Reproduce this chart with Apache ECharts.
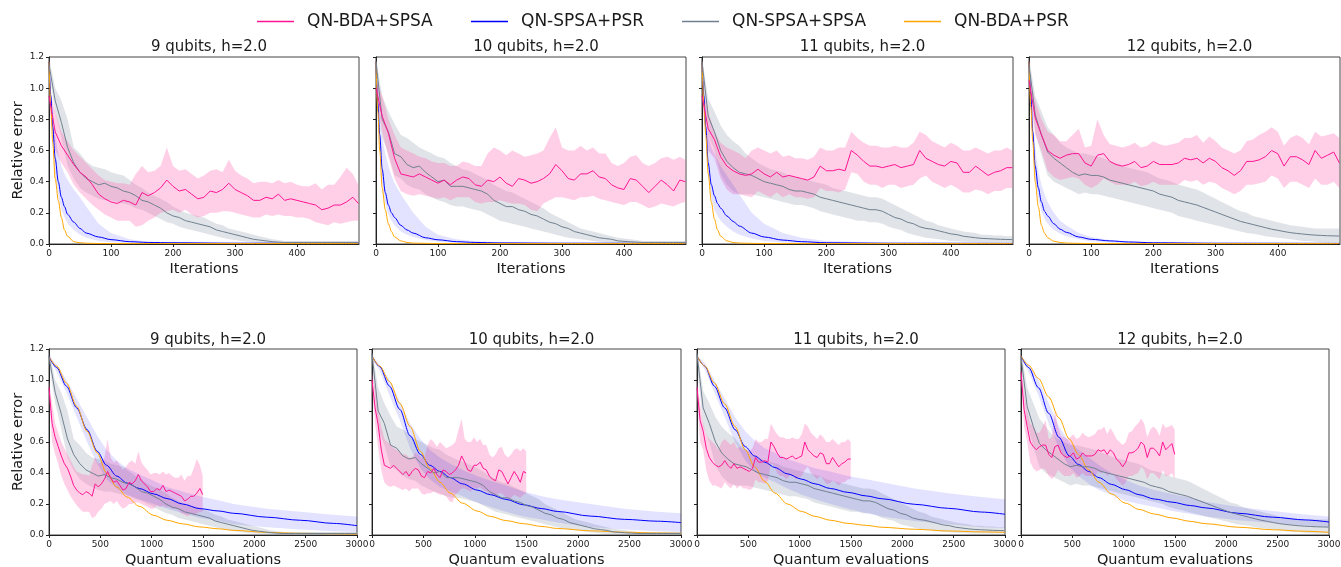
<!DOCTYPE html>
<html>
<head>
<meta charset="utf-8">
<title>Relative error, QN variants</title>
<script src="https://cdn.jsdelivr.net/npm/echarts@6.0.0/dist/echarts.min.js"></script>
<style>
  html, body { margin: 0; padding: 0; background: #fff; }
  #chart { width: 1341px; height: 567px; }
</style>
</head>
<body>
<div id="chart"></div>
<script>
var NAMES = ['QN-BDA+SPSA', 'QN-SPSA+PSR', 'QN-SPSA+SPSA', 'QN-BDA+PSR'];
var QUBITS = [9, 10, 11, 12];

// evaluations spent per iteration by the two SPSA-gradient methods (bottom row x axis)
var BDA_SPSA_EVALS = 3;
var SPSA_SPSA_EVALS = 6;

// iterations at which the noisy curves were read
var ITER = [0,10,20,30,40,50,60,70,80,90,100,110,120,130,140,150,160,170,180,190,200,210,220,230,240,250,260,270,280,290,300,310,320,330,340,350,360,370,380,390,400,410,420,430,440,450,460,470,480,490,499];

// QN-BDA+SPSA (pink) mean / lower / upper
var PINK9 = [0.95,0.72,0.63,0.57,0.51,0.46,0.43,0.38,0.32,0.29,0.27,0.26,0.28,0.27,0.25,0.33,0.31,0.33,0.36,0.41,0.37,0.34,0.35,0.32,0.29,0.30,0.34,0.33,0.35,0.39,0.35,0.33,0.31,0.28,0.28,0.30,0.29,0.32,0.28,0.29,0.28,0.27,0.26,0.25,0.22,0.23,0.25,0.25,0.27,0.30,0.26];
var PINK9_LO = [0.9,0.6,0.52,0.46,0.38,0.33,0.29,0.25,0.22,0.19,0.17,0.15,0.15,0.15,0.11,0.12,0.15,0.17,0.2,0.21,0.22,0.2,0.22,0.19,0.17,0.18,0.2,0.2,0.21,0.21,0.2,0.19,0.18,0.17,0.17,0.19,0.18,0.19,0.18,0.18,0.17,0.17,0.16,0.14,0.13,0.12,0.14,0.13,0.14,0.15,0.15];
var PINK9_HI = [1.0,0.85,0.72,0.66,0.6,0.56,0.52,0.48,0.44,0.41,0.4,0.39,0.39,0.38,0.45,0.5,0.46,0.47,0.5,0.62,0.5,0.47,0.48,0.45,0.42,0.44,0.47,0.48,0.46,0.54,0.47,0.44,0.42,0.39,0.4,0.4,0.39,0.41,0.39,0.4,0.38,0.37,0.37,0.39,0.35,0.38,0.38,0.43,0.49,0.45,0.38];
var PINK10 = [1.0,0.82,0.71,0.55,0.45,0.44,0.43,0.45,0.43,0.41,0.39,0.41,0.38,0.41,0.43,0.42,0.38,0.37,0.41,0.40,0.43,0.39,0.37,0.42,0.41,0.39,0.40,0.42,0.45,0.51,0.47,0.42,0.41,0.45,0.45,0.47,0.43,0.42,0.38,0.36,0.35,0.42,0.41,0.37,0.33,0.37,0.41,0.38,0.34,0.41,0.40];
var PINK10_LO = [0.95,0.72,0.56,0.42,0.34,0.32,0.31,0.32,0.31,0.3,0.29,0.3,0.28,0.3,0.3,0.3,0.27,0.26,0.27,0.27,0.28,0.27,0.26,0.26,0.25,0.22,0.21,0.26,0.28,0.3,0.3,0.29,0.28,0.3,0.3,0.31,0.29,0.28,0.27,0.26,0.25,0.27,0.27,0.25,0.23,0.24,0.26,0.25,0.24,0.26,0.27];
var PINK10_HI = [1.05,0.95,0.8,0.7,0.62,0.6,0.58,0.56,0.55,0.53,0.52,0.52,0.5,0.5,0.53,0.52,0.5,0.5,0.58,0.62,0.6,0.57,0.6,0.58,0.56,0.57,0.58,0.6,0.68,0.75,0.62,0.6,0.6,0.63,0.6,0.62,0.58,0.58,0.52,0.5,0.52,0.56,0.57,0.52,0.5,0.52,0.55,0.56,0.54,0.56,0.54];
var PINK11 = [0.95,0.74,0.67,0.56,0.5,0.47,0.45,0.44,0.45,0.48,0.45,0.43,0.46,0.43,0.44,0.43,0.42,0.41,0.43,0.5,0.47,0.47,0.48,0.47,0.6,0.57,0.53,0.5,0.5,0.49,0.5,0.51,0.49,0.5,0.51,0.6,0.55,0.53,0.51,0.5,0.53,0.52,0.46,0.46,0.5,0.47,0.44,0.46,0.47,0.49,0.49];
var PINK11_LO = [0.9,0.6,0.55,0.42,0.35,0.32,0.32,0.31,0.3,0.34,0.32,0.3,0.33,0.3,0.32,0.3,0.3,0.29,0.3,0.36,0.34,0.34,0.33,0.35,0.46,0.45,0.4,0.38,0.38,0.36,0.38,0.38,0.36,0.37,0.38,0.42,0.44,0.4,0.38,0.36,0.38,0.36,0.33,0.33,0.35,0.34,0.32,0.34,0.34,0.36,0.36];
var PINK11_HI = [1.0,0.85,0.72,0.65,0.62,0.6,0.58,0.55,0.6,0.62,0.6,0.58,0.6,0.56,0.57,0.55,0.55,0.54,0.56,0.62,0.6,0.6,0.62,0.62,0.72,0.68,0.65,0.63,0.63,0.62,0.62,0.63,0.62,0.62,0.65,0.72,0.7,0.66,0.64,0.62,0.65,0.63,0.6,0.6,0.62,0.6,0.58,0.6,0.6,0.62,0.6];
var PINK12 = [1.05,0.81,0.70,0.6,0.57,0.55,0.57,0.58,0.58,0.52,0.5,0.57,0.58,0.53,0.51,0.5,0.51,0.53,0.49,0.5,0.53,0.51,0.51,0.51,0.52,0.55,0.54,0.55,0.52,0.55,0.53,0.49,0.47,0.44,0.47,0.53,0.53,0.54,0.56,0.6,0.58,0.5,0.56,0.56,0.54,0.51,0.6,0.55,0.57,0.59,0.52];
var PINK12_LO = [1.0,0.7,0.6,0.47,0.43,0.41,0.42,0.43,0.42,0.38,0.36,0.38,0.42,0.4,0.38,0.38,0.38,0.4,0.37,0.38,0.4,0.38,0.38,0.38,0.38,0.41,0.4,0.41,0.38,0.4,0.39,0.36,0.34,0.32,0.34,0.38,0.38,0.39,0.4,0.44,0.42,0.36,0.4,0.4,0.38,0.36,0.42,0.38,0.38,0.4,0.36];
var PINK12_HI = [1.1,0.92,0.8,0.72,0.7,0.66,0.66,0.7,0.74,0.62,0.63,0.8,0.7,0.64,0.63,0.62,0.63,0.65,0.62,0.63,0.66,0.64,0.63,0.64,0.65,0.68,0.68,0.7,0.65,0.69,0.66,0.62,0.6,0.58,0.6,0.66,0.67,0.7,0.72,0.75,0.72,0.63,0.68,0.7,0.68,0.64,0.72,0.69,0.7,0.71,0.68];

// QN-SPSA+SPSA (gray) mean / lower / upper
var GRAY9 = [1.15,0.92,0.78,0.62,0.52,0.46,0.42,0.40,0.38,0.39,0.37,0.36,0.34,0.33,0.31,0.28,0.27,0.25,0.23,0.20,0.18,0.17,0.15,0.14,0.13,0.12,0.11,0.09,0.08,0.07,0.06,0.05,0.04,0.03,0.025,0.02,0.015,0.012,0.01,0.01,0.01,0.01,0.01,0.01,0.01,0.01,0.01,0.01,0.01,0.01,0.01];
var GRAY9_LO = [1.1,0.85,0.68,0.5,0.42,0.36,0.33,0.31,0.29,0.28,0.28,0.27,0.26,0.25,0.23,0.22,0.2,0.18,0.16,0.14,0.13,0.11,0.1,0.09,0.08,0.07,0.06,0.05,0.04,0.03,0.025,0.02,0.015,0.01,0.008,0.006,0.005,0.005,0.005,0.005,0.005,0.005,0.005,0.005,0.005,0.005,0.005,0.005,0.005,0.005,0.005];
var GRAY9_HI = [1.2,1.0,0.92,0.8,0.62,0.58,0.53,0.5,0.49,0.48,0.46,0.45,0.44,0.41,0.38,0.36,0.33,0.31,0.29,0.27,0.24,0.22,0.2,0.19,0.18,0.17,0.15,0.13,0.12,0.1,0.09,0.08,0.07,0.06,0.05,0.04,0.03,0.025,0.02,0.02,0.02,0.02,0.02,0.02,0.02,0.02,0.02,0.02,0.02,0.02,0.02];
var GRAY10 = [1.17,0.8,0.72,0.58,0.56,0.51,0.49,0.50,0.46,0.43,0.40,0.41,0.37,0.37,0.37,0.36,0.35,0.34,0.32,0.28,0.26,0.24,0.24,0.22,0.21,0.19,0.18,0.16,0.14,0.13,0.11,0.10,0.08,0.07,0.06,0.05,0.04,0.035,0.03,0.02,0.017,0.014,0.012,0.01,0.01,0.01,0.01,0.01,0.01,0.01,0.01];
var GRAY10_LO = [1.1,0.68,0.58,0.44,0.42,0.38,0.36,0.35,0.32,0.3,0.28,0.27,0.25,0.24,0.24,0.23,0.22,0.21,0.19,0.17,0.15,0.14,0.13,0.12,0.11,0.1,0.09,0.08,0.07,0.06,0.05,0.04,0.035,0.03,0.025,0.02,0.015,0.01,0.008,0.006,0.005,0.005,0.005,0.005,0.005,0.005,0.005,0.005,0.005,0.005,0.005];
var GRAY10_HI = [1.2,0.95,0.85,0.77,0.7,0.68,0.65,0.62,0.6,0.58,0.56,0.55,0.52,0.5,0.48,0.47,0.45,0.43,0.41,0.38,0.36,0.34,0.33,0.31,0.29,0.27,0.25,0.23,0.2,0.18,0.16,0.14,0.12,0.1,0.09,0.08,0.07,0.06,0.05,0.04,0.035,0.03,0.025,0.02,0.02,0.02,0.02,0.02,0.02,0.02,0.02];
var GRAY11 = [1.17,0.82,0.72,0.6,0.53,0.49,0.46,0.45,0.44,0.42,0.40,0.39,0.38,0.37,0.35,0.34,0.34,0.33,0.32,0.30,0.29,0.28,0.27,0.26,0.25,0.24,0.23,0.22,0.22,0.21,0.19,0.17,0.16,0.14,0.13,0.11,0.10,0.095,0.085,0.075,0.065,0.06,0.05,0.045,0.04,0.036,0.034,0.032,0.03,0.029,0.028];
var GRAY11_LO = [1.1,0.7,0.6,0.45,0.38,0.34,0.32,0.32,0.32,0.31,0.3,0.29,0.28,0.27,0.26,0.25,0.25,0.24,0.23,0.21,0.2,0.19,0.18,0.17,0.16,0.15,0.15,0.14,0.14,0.13,0.11,0.1,0.09,0.07,0.06,0.05,0.04,0.035,0.03,0.025,0.02,0.018,0.015,0.013,0.012,0.01,0.01,0.01,0.01,0.01,0.01];
var GRAY11_HI = [1.2,0.93,0.85,0.76,0.7,0.66,0.63,0.58,0.55,0.52,0.5,0.48,0.47,0.46,0.44,0.43,0.42,0.41,0.4,0.39,0.38,0.36,0.35,0.34,0.33,0.32,0.31,0.3,0.3,0.29,0.27,0.25,0.23,0.21,0.19,0.17,0.15,0.14,0.12,0.11,0.1,0.09,0.08,0.075,0.07,0.06,0.06,0.055,0.055,0.05,0.05];
var GRAY12 = [1.15,0.83,0.7,0.59,0.55,0.52,0.49,0.46,0.44,0.45,0.44,0.44,0.43,0.41,0.4,0.39,0.38,0.37,0.36,0.35,0.34,0.32,0.31,0.30,0.28,0.27,0.26,0.25,0.235,0.22,0.205,0.19,0.175,0.16,0.145,0.135,0.125,0.115,0.105,0.095,0.088,0.08,0.073,0.068,0.064,0.06,0.057,0.055,0.053,0.052,0.051];
var GRAY12_LO = [1.1,0.72,0.57,0.44,0.4,0.38,0.36,0.34,0.32,0.33,0.32,0.32,0.31,0.3,0.29,0.28,0.27,0.26,0.25,0.24,0.23,0.22,0.21,0.2,0.18,0.17,0.16,0.15,0.14,0.13,0.12,0.11,0.1,0.09,0.08,0.07,0.065,0.06,0.05,0.045,0.04,0.035,0.03,0.025,0.02,0.02,0.015,0.012,0.01,0.01,0.01];
var GRAY12_HI = [1.2,0.95,0.85,0.75,0.7,0.65,0.62,0.6,0.58,0.58,0.57,0.56,0.55,0.53,0.52,0.5,0.49,0.48,0.47,0.46,0.44,0.42,0.41,0.4,0.38,0.37,0.36,0.35,0.33,0.31,0.29,0.27,0.25,0.23,0.21,0.2,0.18,0.17,0.16,0.15,0.14,0.13,0.12,0.115,0.11,0.105,0.1,0.1,0.1,0.1,0.1];

// PSR methods against iterations (top row)
var TOP_FAST_X = [0,3,6,10,15,20,25,30,40,50,60,80,100,130,160,200,300,499];
var BLUE9 = [1.17,0.95,0.75,0.55,0.40,0.30,0.24,0.19,0.14,0.10,0.07,0.045,0.028,0.015,0.01,0.008,0.005,0.005];
var BLUE9_LO = [1.17,0.9,0.65,0.45,0.31,0.22,0.17,0.13,0.09,0.06,0.04,0.02,0.012,0.007,0.004,0.003,0.002,0.002];
var BLUE9_HI = [1.17,1.0,0.85,0.7,0.58,0.5,0.45,0.41,0.35,0.3,0.24,0.13,0.07,0.03,0.015,0.01,0.008,0.008];
var ORANGE9 = [1.17,0.88,0.65,0.42,0.28,0.17,0.09,0.05,0.015,0.008,0.005,0.003,0.003,0.003,0.003,0.003,0.003,0.003];
var BLUE10 = [1.17,0.9,0.7,0.48,0.33,0.25,0.2,0.17,0.12,0.09,0.07,0.04,0.027,0.015,0.01,0.007,0.005,0.004];
var BLUE10_LO = [1.17,0.85,0.62,0.4,0.26,0.19,0.15,0.12,0.08,0.06,0.045,0.025,0.015,0.008,0.005,0.004,0.003,0.003];
var BLUE10_HI = [1.17,1.0,0.85,0.68,0.58,0.5,0.44,0.39,0.32,0.26,0.2,0.11,0.06,0.03,0.018,0.012,0.008,0.006];
var ORANGE10 = [1.17,0.85,0.6,0.36,0.22,0.13,0.08,0.045,0.02,0.01,0.006,0.004,0.003,0.003,0.003,0.003,0.003,0.003];
var BLUE11 = [1.17,0.95,0.75,0.52,0.38,0.31,0.26,0.23,0.18,0.145,0.115,0.07,0.045,0.025,0.015,0.008,0.005,0.004];
var BLUE11_LO = [1.17,0.9,0.68,0.45,0.3,0.22,0.18,0.15,0.11,0.08,0.06,0.035,0.02,0.01,0.006,0.004,0.003,0.003];
var BLUE11_HI = [1.17,1.0,0.85,0.7,0.62,0.58,0.54,0.5,0.44,0.38,0.32,0.2,0.13,0.07,0.04,0.02,0.008,0.005];
var ORANGE11 = [1.17,0.9,0.7,0.45,0.27,0.16,0.09,0.05,0.02,0.01,0.006,0.004,0.003,0.003,0.003,0.003,0.003,0.003];
var BLUE12 = [1.17,0.95,0.72,0.5,0.36,0.27,0.21,0.18,0.13,0.095,0.075,0.045,0.03,0.02,0.013,0.008,0.005,0.004];
var BLUE12_LO = [1.17,0.9,0.64,0.42,0.29,0.21,0.16,0.13,0.09,0.065,0.05,0.03,0.018,0.01,0.007,0.005,0.003,0.003];
var BLUE12_HI = [1.17,1.0,0.82,0.62,0.47,0.38,0.32,0.27,0.2,0.15,0.12,0.07,0.045,0.025,0.017,0.01,0.007,0.005];
var ORANGE12 = [1.17,0.88,0.66,0.4,0.24,0.12,0.07,0.04,0.018,0.01,0.006,0.004,0.003,0.003,0.003,0.003,0.003,0.003];

// PSR methods against quantum evaluations (bottom row)
var BOT_X = [0,75,170,270,370,470,560,660,760,880,1020,1150,1300,1470,1650,1800,2120,2450,2770,3000];
var EV_BLUE9 = [1.15,1.08,0.96,0.82,0.68,0.54,0.45,0.38,0.335,0.30,0.265,0.235,0.2,0.17,0.155,0.14,0.115,0.095,0.075,0.06];
var EV_BLUE9_LO = [1.14,1.05,0.92,0.76,0.6,0.46,0.36,0.3,0.26,0.23,0.2,0.17,0.14,0.11,0.09,0.07,0.05,0.035,0.025,0.02];
var EV_BLUE9_HI = [1.16,1.1,1.0,0.88,0.76,0.64,0.55,0.48,0.43,0.39,0.35,0.31,0.28,0.25,0.225,0.2,0.17,0.15,0.13,0.12];
var EV_ORANGE9 = [1.15,1.09,0.98,0.83,0.67,0.53,0.40,0.31,0.245,0.185,0.127,0.095,0.072,0.052,0.04,0.03,0.017,0.011,0.008,0.006];
var EV_BLUE10 = [1.155,1.086,0.96,0.81,0.64,0.52,0.45,0.41,0.37,0.33,0.29,0.26,0.23,0.195,0.17,0.152,0.122,0.101,0.089,0.08];
var EV_BLUE10_LO = [1.14,1.06,0.9,0.74,0.56,0.43,0.36,0.31,0.28,0.25,0.21,0.18,0.15,0.12,0.1,0.08,0.05,0.035,0.025,0.02];
var EV_BLUE10_HI = [1.16,1.1,1.0,0.86,0.72,0.62,0.55,0.5,0.46,0.42,0.38,0.35,0.32,0.28,0.25,0.23,0.2,0.17,0.15,0.14];
var EV_ORANGE10 = [1.155,1.09,0.99,0.85,0.70,0.54,0.43,0.34,0.27,0.205,0.155,0.12,0.093,0.073,0.055,0.042,0.027,0.018,0.013,0.011];
var EV_BLUE11 = [1.155,1.09,0.96,0.82,0.68,0.57,0.51,0.47,0.435,0.395,0.36,0.33,0.30,0.275,0.252,0.234,0.198,0.172,0.148,0.134];
var EV_BLUE11_LO = [1.14,1.07,0.92,0.76,0.6,0.48,0.41,0.37,0.34,0.3,0.26,0.23,0.2,0.17,0.14,0.12,0.09,0.07,0.05,0.045];
var EV_BLUE11_HI = [1.16,1.11,1.0,0.88,0.76,0.67,0.61,0.56,0.53,0.49,0.46,0.43,0.41,0.38,0.36,0.34,0.3,0.27,0.245,0.23];
var EV_ORANGE11 = [1.155,1.09,0.98,0.845,0.70,0.55,0.44,0.345,0.27,0.2,0.152,0.12,0.095,0.075,0.062,0.05,0.037,0.026,0.02,0.017];
var EV_BLUE12 = [1.155,1.08,0.95,0.785,0.63,0.51,0.455,0.41,0.37,0.327,0.292,0.26,0.232,0.212,0.19,0.175,0.14,0.115,0.097,0.084];
var EV_BLUE12_LO = [1.14,1.05,0.9,0.72,0.56,0.44,0.38,0.33,0.29,0.26,0.22,0.2,0.18,0.155,0.135,0.12,0.095,0.077,0.062,0.052];
var EV_BLUE12_HI = [1.16,1.1,1.0,0.85,0.7,0.6,0.55,0.5,0.45,0.4,0.355,0.32,0.29,0.265,0.24,0.215,0.18,0.155,0.133,0.12];
var EV_ORANGE12 = [1.155,1.095,1.01,0.89,0.755,0.62,0.52,0.42,0.34,0.265,0.205,0.165,0.135,0.11,0.088,0.073,0.05,0.034,0.024,0.017];

var PINK = [PINK9, PINK10, PINK11, PINK12];
var PINK_LO = [PINK9_LO, PINK10_LO, PINK11_LO, PINK12_LO];
var PINK_HI = [PINK9_HI, PINK10_HI, PINK11_HI, PINK12_HI];
var GRAY = [GRAY9, GRAY10, GRAY11, GRAY12];
var GRAY_LO = [GRAY9_LO, GRAY10_LO, GRAY11_LO, GRAY12_LO];
var GRAY_HI = [GRAY9_HI, GRAY10_HI, GRAY11_HI, GRAY12_HI];
var BLUE = [BLUE9, BLUE10, BLUE11, BLUE12];
var BLUE_LO = [BLUE9_LO, BLUE10_LO, BLUE11_LO, BLUE12_LO];
var BLUE_HI = [BLUE9_HI, BLUE10_HI, BLUE11_HI, BLUE12_HI];
var ORANGE = [ORANGE9, ORANGE10, ORANGE11, ORANGE12];
var EV_BLUE = [EV_BLUE9, EV_BLUE10, EV_BLUE11, EV_BLUE12];
var EV_BLUE_LO = [EV_BLUE9_LO, EV_BLUE10_LO, EV_BLUE11_LO, EV_BLUE12_LO];
var EV_BLUE_HI = [EV_BLUE9_HI, EV_BLUE10_HI, EV_BLUE11_HI, EV_BLUE12_HI];
var EV_ORANGE = [EV_ORANGE9, EV_ORANGE10, EV_ORANGE11, EV_ORANGE12];

var FONT = '"DejaVu Sans", sans-serif';
var TXT = '#1a1a1a';
var C_PINK = '#ff1493', C_BLUE = '#0000ff', C_GRAY = '#708090', C_ORANGE = '#ffa500';
var F_PINK = 'rgba(255,105,180,0.32)', F_GRAY = 'rgba(112,128,144,0.22)', F_BLUE = 'rgba(0,0,255,0.11)';

var TOP_LEFT = [49, 376, 702, 1029], TOP_W = [310, 310, 311, 311];
var BOT_LEFT = [49, 372, 697, 1021], BOT_W = [308, 309, 308, 308];
var LEGEND_LEFT = [252, 466, 677, 899];

var grids = [], xAxes = [], yAxes = [], titles = [], series = [];

function pts(xs, ys, f) {
  return ys.map(function (y, i) { return [xs[i] * f, y]; });
}

// shaded spread between lo and hi, drawn as one polygon through the axes' coord()
function addBand(k, xs, lo, hi, f, fill) {
  series.push({
    type: 'custom', xAxisIndex: k, yAxisIndex: k, silent: true, clip: true,
    data: [[xs[0] * f, lo[0]]],
    renderItem: function (params, api) {
      var ring = [];
      for (var i = 0; i < xs.length; i++) ring.push(api.coord([xs[i] * f, hi[i]]));
      for (var j = xs.length - 1; j >= 0; j--) ring.push(api.coord([xs[j] * f, lo[j]]));
      return { type: 'polygon', shape: { points: ring }, style: { fill: fill } };
    }
  });
}

function addLine(k, name, xs, ys, f, color, smooth) {
  series.push({
    type: 'line', name: name, xAxisIndex: k, yAxisIndex: k,
    data: pts(xs, ys, f), symbol: 'none', smooth: smooth, smoothMonotone: 'x', silent: true,
    lineStyle: { color: color, width: 1 }, itemStyle: { color: color }
  });
}

function addPanel(k, col, top) {
  var left = top ? TOP_LEFT[col] : BOT_LEFT[col];
  var w = top ? TOP_W[col] : BOT_W[col];
  grids.push({
    left: left, top: top ? 57 : 349, width: w, height: top ? 187 : 186,
    show: true, borderColor: '#444', borderWidth: 1, backgroundColor: 'transparent',
    containLabel: false, outerBoundsMode: 'none'
  });
  titles.push({
    text: QUBITS[col] + ' qubits, h=2.0', left: left + w / 2, top: top ? 35 : 328, textAlign: 'center',
    textStyle: { fontFamily: FONT, fontSize: 15, fontWeight: 'normal', color: TXT }
  });
  xAxes.push({
    type: 'value', gridIndex: k, min: 0, max: top ? 500 : 3000, interval: top ? 100 : 500,
    name: top ? 'Iterations' : 'Quantum evaluations', nameLocation: 'middle', nameGap: 18,
    nameTextStyle: { fontFamily: FONT, fontSize: 14.5, color: TXT },
    axisLine: { onZero: false, lineStyle: { color: '#222', width: 1 } },
    axisTick: { length: 3, lineStyle: { color: '#222' } },
    axisLabel: {
      fontFamily: FONT, fontSize: 9, color: TXT, margin: 5, showMinLabel: true, showMaxLabel: !top,
      formatter: function (v) { return String(v); }
    },
    splitLine: { show: false }
  });
  yAxes.push({
    type: 'value', gridIndex: k, min: 0, max: 1.2, interval: 0.2,
    name: col === 0 ? 'Relative error' : '', nameLocation: 'middle', nameGap: 23,
    nameTextStyle: { fontFamily: FONT, fontSize: 14.5, color: TXT },
    axisLine: { show: true, onZero: false, lineStyle: { color: '#222', width: 1 } },
    axisTick: { show: true, length: 3, lineStyle: { color: '#222' } },
    axisLabel: {
      show: col === 0, fontFamily: FONT, fontSize: 9, color: TXT, margin: 5,
      formatter: function (v) { return v.toFixed(1); }
    },
    splitLine: { show: false }
  });
}

for (var q = 0; q < 4; q++) {
  addPanel(q, q, true);
  addBand(q, ITER, GRAY_LO[q], GRAY_HI[q], 1, F_GRAY);
  addBand(q, ITER, PINK_LO[q], PINK_HI[q], 1, F_PINK);
  addBand(q, TOP_FAST_X, BLUE_LO[q], BLUE_HI[q], 1, F_BLUE);
  addLine(q, NAMES[1], TOP_FAST_X, BLUE[q], 1, C_BLUE, 0.3);
  addLine(q, NAMES[3], TOP_FAST_X, ORANGE[q], 1, C_ORANGE, 0.3);
  addLine(q, NAMES[2], ITER, GRAY[q], 1, C_GRAY, false);
  addLine(q, NAMES[0], ITER, PINK[q], 1, C_PINK, false);
}
for (var b = 0; b < 4; b++) {
  var k = 4 + b;
  addPanel(k, b, false);
  addBand(k, ITER, GRAY_LO[b], GRAY_HI[b], SPSA_SPSA_EVALS, F_GRAY);
  addBand(k, ITER, PINK_LO[b], PINK_HI[b], BDA_SPSA_EVALS, F_PINK);
  addBand(k, BOT_X, EV_BLUE_LO[b], EV_BLUE_HI[b], 1, F_BLUE);
  addLine(k, NAMES[1], BOT_X, EV_BLUE[b], 1, C_BLUE, 0.3);
  addLine(k, NAMES[3], BOT_X, EV_ORANGE[b], 1, C_ORANGE, 0.3);
  addLine(k, NAMES[2], ITER, GRAY[b], SPSA_SPSA_EVALS, C_GRAY, false);
  addLine(k, NAMES[0], ITER, PINK[b], BDA_SPSA_EVALS, C_PINK, false);
}

var legends = NAMES.map(function (n, i) {
  return {
    data: [n], left: LEGEND_LEFT[i], top: 8, icon: 'rect', itemWidth: 37, itemHeight: 1.5,
    selectedMode: false,
    textStyle: { fontFamily: FONT, fontSize: 17, color: TXT, padding: [0, 0, 0, 8] }
  };
});

var chart = echarts.init(document.getElementById('chart'));
chart.setOption({
  animation: false,
  backgroundColor: '#fff',
  title: titles,
  legend: legends,
  grid: grids,
  xAxis: xAxes,
  yAxis: yAxes,
  series: series
});
</script>
</body>
</html>
